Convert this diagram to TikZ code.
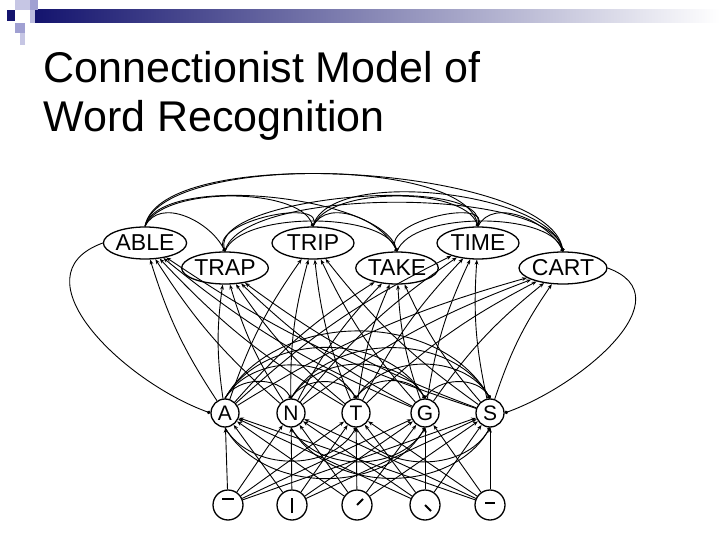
\documentclass[tikz,border=0pt]{standalone}
\usepackage{fontspec}
\setmainfont{Liberation Sans}
\usetikzlibrary{arrows.meta,shapes.geometric}
\definecolor{navy}{RGB}{20,20,110}
\definecolor{lav}{RGB}{160,160,210}
\begin{document}
\begin{tikzpicture}[x=1pt,y=-1pt,
  word/.style={draw,ellipse,line width=1.3pt,minimum width=82pt,minimum height=32pt,inner sep=0pt,font=\fontsize{23}{23}\selectfont},
  letter/.style={draw,circle,line width=1.3pt,minimum size=28pt,inner sep=0pt,font=\fontsize{21}{21}\selectfont},
  feat/.style={draw,circle,line width=1.3pt,minimum size=30pt,inner sep=0pt},
  inh/.style={line width=0.9pt,-{Circle[length=3.5pt]}},
  exc/.style={line width=0.9pt,-{Stealth[length=5pt]}}]
\useasboundingbox (0,0) rectangle (720,540);
\shade[left color=navy,right color=white] (35,10) rectangle (720,23);
\fill[navy] (7,10) rectangle (15,21);
\fill[lav!60] (15,0) rectangle (30,10);
\fill[lav] (30,0) rectangle (38,10);
\fill[lav!70] (30,10) rectangle (35,23);
\fill[lav] (15,23) rectangle (25,33);
\fill[lav!60] (20,33) rectangle (25,45);
\node[anchor=west,font=\fontsize{43}{43}\selectfont] (t1) at (40,67) {Connectionist Model of};
\node[anchor=west,font=\fontsize{43}{43}\selectfont] (t2) at (40,120) {Word Recognition};
% words
\node[word] (w1) at (145,243) {ABLE};
\node[word] (w2) at (313,243) {TRIP};
\node[word] (w3) at (478,243) {TIME};
\node[word] (w4) at (225,268) {TRAP};
\node[word] (w5) at (397,268) {TAKE};
\node[word] (w6) at (563,268) {CART};
% letters
\foreach \n/\x/\l in {A/225/A,N/291/N,T/356/T,G/425/G,S/490/S}
  \node[letter] (\n) at (\x,413) {\l};
% features
\foreach \i/\x in {1/228,2/292,3/357,4/425,5/490}
  \node[feat] (f\i) at (\x,505) {};
\draw[line width=1.8pt] ([xshift=-6pt,yshift=6pt]f1.center) -- ([xshift=6pt,yshift=6pt]f1.center);
\draw[line width=1.8pt] ([yshift=-8pt]f2.center) -- ([yshift=7pt]f2.center);
\draw[line width=1.8pt] (f3.center) -- ([xshift=6pt,yshift=6pt]f3.center);
\draw[line width=1.8pt] (f4.center) -- ([xshift=6pt,yshift=-6pt]f4.center);
\draw[line width=1.8pt] ([xshift=-5pt,yshift=2pt]f5.center) -- ([xshift=5pt,yshift=2pt]f5.center);
% feature to letter
\foreach \f in {1,...,5}
  \foreach \l in {A,N,T,G,S}
    \draw[exc] (f\f) -- (\l);
% letter to word
\foreach \w in {1,...,6}
  \foreach \l in {A,N,T,G,S}
    \draw[exc,bend left=8] (\l) to (w\w);
% word-word inhibition
\foreach \a/\b/\h in {1/2/40,1/3/70,1/4/30,1/5/55,1/6/85,2/3/40,2/4/30,2/5/30,2/6/60,3/4/55,3/5/30,3/6/30,4/5/40,4/6/65,5/6/40}
  \draw[inh] (w\a.north) .. controls +(15,-\h) and +(-15,-\h) .. (w\b.north);
\draw[inh,out=200,in=160,looseness=1.2] (w1.west) to (A.west);
\draw[inh,out=-20,in=20,looseness=1.2] (w6.east) to (S.east);
% letter-letter inhibition
\foreach \a/\b in {A/N,A/T,A/G,A/S,N/T,N/G,N/S,T/G,T/S,G/S}
  \draw[inh,out=60,in=120] (\a.north) to (\b.north);
\foreach \a/\b in {A/T,N/G,T/S,A/G,N/S}
  \draw[inh,out=-60,in=-120] (\a.south) to (\b.south);
\end{tikzpicture}
\end{document}
